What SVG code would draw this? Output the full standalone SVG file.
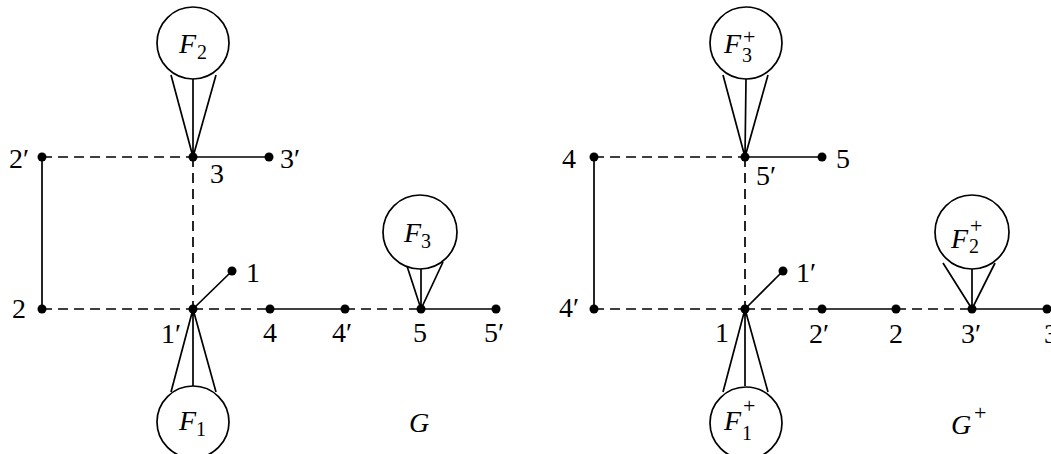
<svg xmlns="http://www.w3.org/2000/svg" width="1051" height="454" viewBox="0 0 1051 454">
<style>
.s{stroke:#000;stroke-width:1.7;fill:none}
.d{stroke:#000;stroke-width:1.7;fill:none;stroke-dasharray:10 6}
.c{stroke:#000;stroke-width:1.7;fill:#fff}
.v{fill:#000}
text{font-family:"Liberation Serif","DejaVu Serif",serif;fill:#000}
.n{font-size:28px}
.i{font-size:28px;font-style:italic}
.m{font-size:20px}
.p{font-size:22px}
</style>
<rect width="1051" height="454" fill="#fff"/>
<g id="connectors">
<line class="d" x1="42" y1="157" x2="193" y2="157"/>
<line class="s" x1="193" y1="157" x2="269" y2="157"/>
<line class="d" x1="193" y1="157" x2="193" y2="309"/>
<line class="s" x1="42" y1="157" x2="42" y2="309"/>
<line class="d" x1="42" y1="309" x2="193" y2="309"/>
<line class="d" x1="193" y1="309" x2="270" y2="309"/>
<line class="s" x1="270" y1="309" x2="345" y2="309"/>
<line class="d" x1="345" y1="309" x2="421" y2="309"/>
<line class="s" x1="421" y1="309" x2="496" y2="309"/>
<line class="s" x1="193" y1="309" x2="232" y2="271"/>
<path class="s" d="M171 75 L193 157 L216 75 M193 79 L193 157"/>
<path class="s" d="M171 392 L193 309 L216 392 M193 386 L193 309"/>
<path class="s" d="M406 263 L421 309 L443 262 M421 263 L421 309"/>
<line class="d" x1="594" y1="157" x2="745" y2="157"/>
<line class="s" x1="745" y1="157" x2="822" y2="157"/>
<line class="d" x1="745" y1="157" x2="745" y2="309"/>
<line class="s" x1="594" y1="157" x2="594" y2="309"/>
<line class="d" x1="594" y1="309" x2="745" y2="309"/>
<line class="d" x1="745" y1="309" x2="822" y2="309"/>
<line class="s" x1="822" y1="309" x2="896" y2="309"/>
<line class="d" x1="896" y1="309" x2="972" y2="309"/>
<line class="s" x1="972" y1="309" x2="1047" y2="309"/>
<line class="s" x1="745" y1="309" x2="783" y2="271"/>
<path class="s" d="M723 75 L745 157 L768 75 M746 79 L745 157"/>
<path class="s" d="M723 392 L745 309 L768 392 M745 386 L745 309"/>
<path class="s" d="M943 263 L972 309 L995 263 M972 263 L972 309"/>
</g>
<g id="F2"><circle class="c" cx="193" cy="43" r="36"/><text class="i" x="179" y="53">F</text><text class="m" x="197" y="59">2</text></g>
<g id="F1"><circle class="c" cx="193" cy="422" r="36"/><text class="i" x="179" y="430">F</text><text class="m" x="196" y="436">1</text></g>
<g id="F3"><circle class="c" cx="420" cy="232" r="37"/><text class="i" x="404" y="242">F</text><text class="m" x="421" y="248">3</text></g>
<g id="n2p"><circle class="v" cx="42" cy="157" r="4.5"/><text class="n" x="9" y="168">2′</text></g>
<g id="n3"><circle class="v" cx="193" cy="157" r="4.5"/><text class="n" x="217" y="183" text-anchor="middle">3</text></g>
<g id="n3p"><circle class="v" cx="269" cy="157" r="4.5"/><text class="n" x="280" y="168">3′</text></g>
<g id="n2"><circle class="v" cx="42" cy="309" r="4.5"/><text class="n" x="12" y="318">2</text></g>
<g id="n1p"><circle class="v" cx="193" cy="309" r="4.5"/><text class="n" x="161" y="343">1′</text></g>
<g id="n1"><circle class="v" cx="232" cy="271" r="4.5"/><text class="n" x="246" y="282">1</text></g>
<g id="n4"><circle class="v" cx="270" cy="309" r="4.5"/><text class="n" x="270" y="342" text-anchor="middle">4</text></g>
<g id="n4p"><circle class="v" cx="345" cy="309" r="4.5"/><text class="n" x="332" y="342">4′</text></g>
<g id="n5"><circle class="v" cx="421" cy="309" r="4.5"/><text class="n" x="420" y="342" text-anchor="middle">5</text></g>
<g id="n5p"><circle class="v" cx="496" cy="309" r="4.5"/><text class="n" x="484" y="342">5′</text></g>
<g id="labelG"><text class="i" x="409" y="432">G</text></g>
<g id="F3plus"><circle class="c" cx="746" cy="43" r="36"/><text class="i" x="724" y="53">F</text><text class="p" x="743" y="44">+</text><text class="m" x="742" y="62">3</text></g>
<g id="F1plus"><circle class="c" cx="746" cy="423" r="36"/><text class="i" x="724" y="430">F</text><text class="p" x="743" y="413">+</text><text class="m" x="742" y="440">1</text></g>
<g id="F2plus"><circle class="c" cx="972" cy="232" r="37"/><text class="i" x="951" y="248">F</text><text class="p" x="970" y="233">+</text><text class="m" x="969" y="253">2</text></g>
<g id="r4"><circle class="v" cx="594" cy="157" r="4.5"/><text class="n" x="562" y="168">4</text></g>
<g id="r5p"><circle class="v" cx="745" cy="157" r="4.5"/><text class="n" x="756" y="185">5′</text></g>
<g id="r5"><circle class="v" cx="822" cy="157" r="4.5"/><text class="n" x="836" y="168">5</text></g>
<g id="r4p"><circle class="v" cx="594" cy="309" r="4.5"/><text class="n" x="559" y="317">4′</text></g>
<g id="r1"><circle class="v" cx="745" cy="309" r="4.5"/><text class="n" x="715" y="342">1</text></g>
<g id="r1p"><circle class="v" cx="783" cy="271" r="4.5"/><text class="n" x="796" y="282">1′</text></g>
<g id="r2p"><circle class="v" cx="822" cy="309" r="4.5"/><text class="n" x="809" y="343">2′</text></g>
<g id="r2"><circle class="v" cx="896" cy="309" r="4.5"/><text class="n" x="896" y="343" text-anchor="middle">2</text></g>
<g id="r3p"><circle class="v" cx="972" cy="309" r="4.5"/><text class="n" x="961" y="343">3′</text></g>
<g id="r3"><circle class="v" cx="1047" cy="309" r="4.5"/><text class="n" x="1044" y="343">3</text></g>
<g id="labelGplus"><text class="i" x="951" y="434">G</text><text class="p" x="974" y="420">+</text></g>
</svg>
